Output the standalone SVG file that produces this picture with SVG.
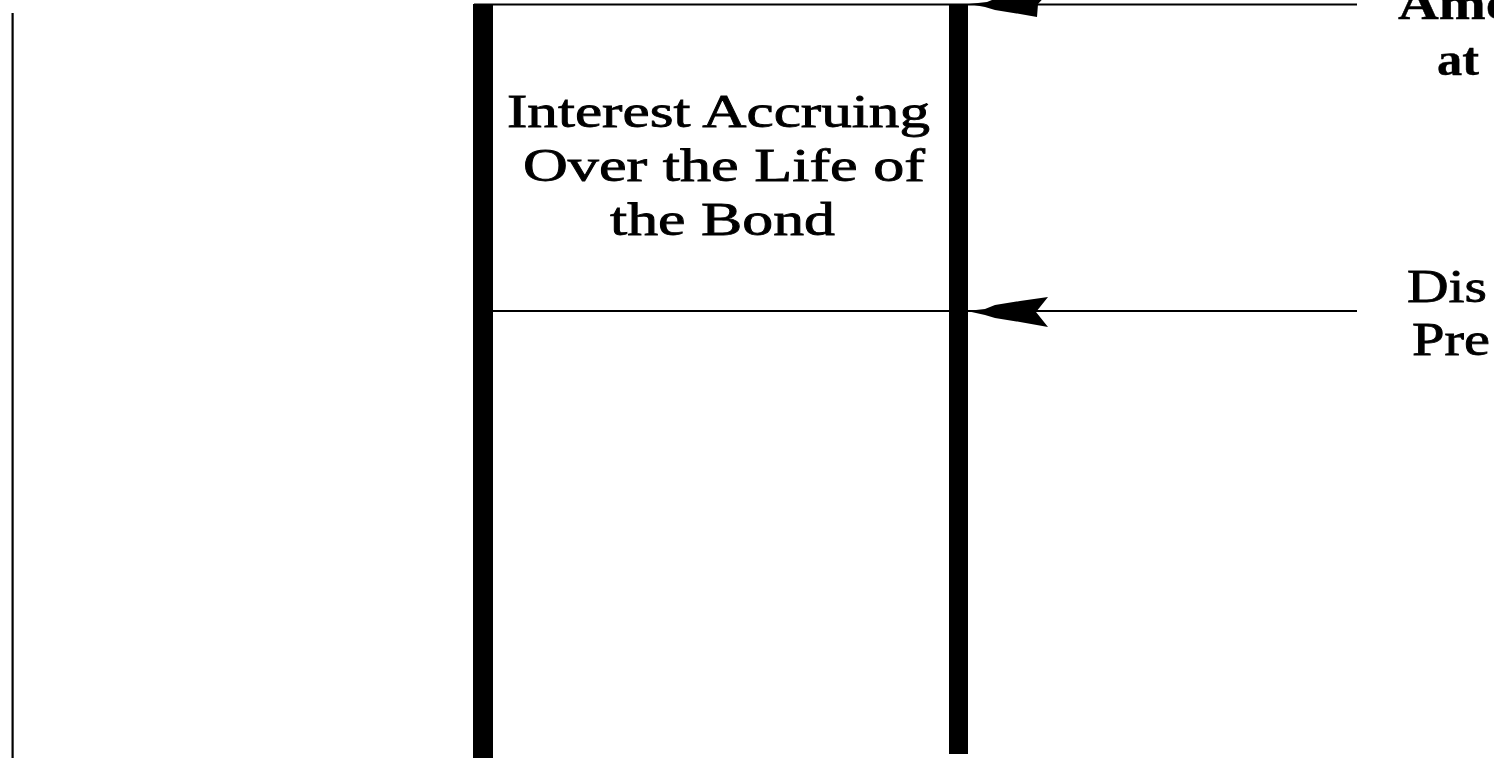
<svg xmlns="http://www.w3.org/2000/svg" width="1494" height="758" viewBox="0 0 1494 758">
<style>
.t{font-family:"Liberation Serif","Times New Roman",serif;font-size:46px;fill:#000;stroke:#000;stroke-width:0.8}
.b{font-weight:bold;stroke-width:0.4}
.ln{stroke:#000;stroke-width:2;fill:none}
.bar{fill:#000}
.ah{fill:#000}
</style>
<rect x="0" y="0" width="1494" height="758" fill="#fff"/>
<g id="axis"><rect x="11.5" y="13" width="2.2" height="745" class="bar"/></g>
<g id="bond-box">
<rect x="473" y="4" width="20" height="754" class="bar"/>
<rect x="949" y="5" width="19" height="749" class="bar"/>
<text class="t" x="507" y="127" textLength="423" lengthAdjust="spacingAndGlyphs">Interest Accruing</text>
<text class="t" x="523" y="181" textLength="402" lengthAdjust="spacingAndGlyphs">Over the Life of</text>
<text class="t" x="610" y="235" textLength="225" lengthAdjust="spacingAndGlyphs">the Bond</text>
</g>
<g id="connectors">
<line x1="474" y1="4.5" x2="1357" y2="4.5" class="ln"/>
<line x1="493" y1="311" x2="1357" y2="311" class="ln"/>
<polygon class="ah" points="969,4 987,2 997,-2 1022,-6 1050,-9 1038,4 1037,17 1020,14 995,10 985,7"/>
<polygon class="ah" points="967,311 985,309 995,305 1020,301 1048,297 1036,312 1048,327 1020,322 995,318 985,315"/>
</g>
<g id="label-top">
<text class="t b" x="1398" y="19" textLength="116" lengthAdjust="spacingAndGlyphs">Amo</text>
<text class="t b" x="1437" y="75" textLength="42" lengthAdjust="spacingAndGlyphs">at</text>
</g>
<g id="label-mid">
<text class="t" x="1407" y="302" textLength="80" lengthAdjust="spacingAndGlyphs">Dis</text>
<text class="t" x="1412" y="355" textLength="78" lengthAdjust="spacingAndGlyphs">Pre</text>
</g>
</svg>
